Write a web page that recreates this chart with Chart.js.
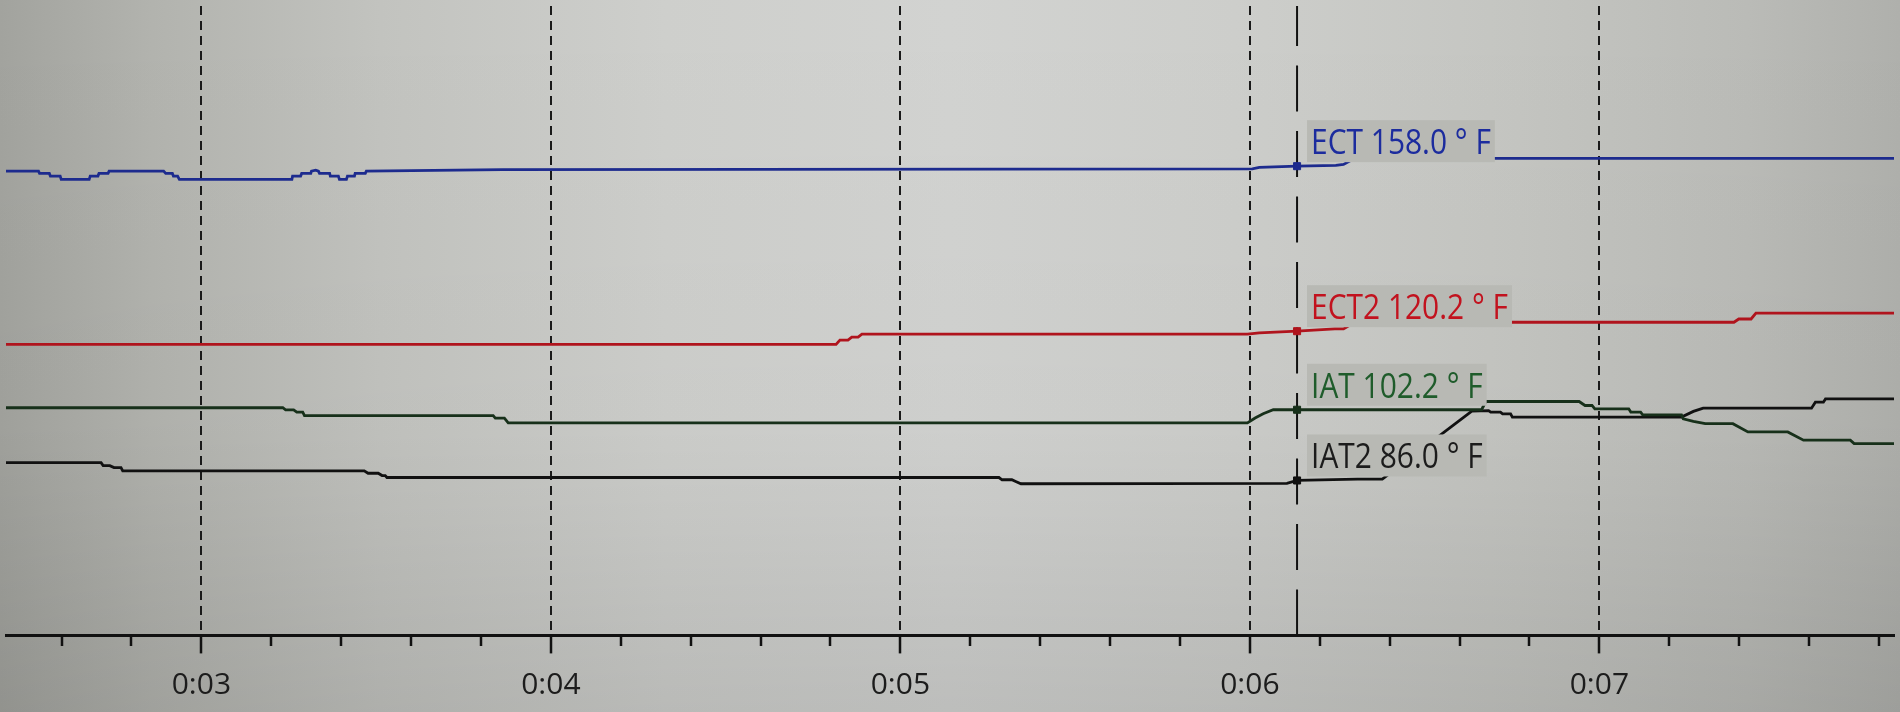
<!DOCTYPE html>
<html>
<head>
<meta charset="utf-8">
<script src="https://cdn.jsdelivr.net/npm/chart.js@4.4.1/dist/chart.umd.min.js"></script>
<style>
html,body{margin:0;padding:0;background:#c4c5c1;overflow:hidden}
#wrap{width:1900px;height:712px;position:relative}
</style>
</head>
<body>
<div id="wrap"><canvas id="c"></canvas></div>
<script>
// ---------- data ----------
const timeRange = [2.441, 7.843];          // visible time window
const valueRange = [50.51, 194.69];        // °F range of the plot
const majorTicks = [3, 4, 5, 6, 7];        // labelled as 0:03 ... 0:07
const minorStep = 0.2;
const channelNames = ['ECT', 'ECT2', 'IAT', 'IAT2'];
const channelUnit = '° F';
const cursorTime = 6.135;
const cursorReadings = [158.0, 120.2, 102.2, 86.0];

const ectSeries = [
  [2.440,156.87],[2.534,156.87],[2.537,156.34],[2.565,156.34],[2.568,155.73],[2.596,155.73],
  [2.599,154.98],[2.679,154.98],[2.682,155.73],[2.704,155.73],[2.707,156.34],[2.733,156.34],
  [2.736,156.87],[2.892,156.87],[2.898,156.34],[2.917,156.34],[2.920,155.73],[2.932,155.73],
  [2.937,154.98],[3.259,154.98],[3.261,155.73],[3.284,155.73],[3.287,156.34],[3.313,156.34],
  [3.315,156.87],[3.327,157.09],[3.335,156.87],[3.338,156.34],[3.367,156.34],[3.369,155.73],
  [3.392,155.73],[3.395,154.98],[3.415,154.98],[3.418,155.73],[3.438,155.73],[3.440,156.34],
  [3.469,156.34],[3.472,156.87],[3.861,157.2],[6.007,157.4],[6.027,157.7],[6.135,158.0],
  [6.246,158.2],[6.268,158.4],[6.300,159.8],[7.843,159.8]
];
const ect2Series = [
  [2.440,117.18],[4.816,117.18],[4.827,118.15],[4.850,118.15],[4.861,118.84],[4.879,118.84],
  [4.890,119.52],[5.993,119.52],[6.027,119.81],[6.135,120.2],[6.243,120.72],[6.268,120.72],
  [6.300,122.24],[7.385,122.24],[7.399,122.99],[7.434,122.99],[7.448,124.35],[7.843,124.35]
];
const iatSeries = [
  [2.440,102.66],[3.233,102.66],[3.241,102.18],[3.264,102.18],[3.273,101.66],[3.290,101.66],
  [3.295,100.86],[3.835,100.86],[3.841,100.30],[3.867,100.30],[3.878,99.2],[5.993,99.2],
  [6.015,100.3],[6.038,101.3],[6.067,102.2],[6.663,102.2],[6.675,104.09],[6.942,104.09],
  [6.959,103.18],[6.979,103.18],[6.987,102.41],[7.084,102.41],[7.090,101.66],[7.118,101.66],
  [7.124,101.04],[7.235,101.04],[7.240,100.14],[7.269,99.55],[7.303,99.0],[7.382,99.0],
  [7.425,97.12],[7.539,97.12],[7.584,95.24],[7.718,95.24],[7.729,94.46],[7.843,94.46]
];
const iat2Series = [
  [2.440,90.08],[2.713,90.08],[2.719,89.40],[2.738,89.40],[2.750,88.95],[2.770,88.95],
  [2.775,88.20],[3.466,88.20],[3.477,87.66],[3.506,87.66],[3.517,87.13],[3.526,87.13],
  [3.531,86.68],[5.282,86.68],[5.291,86.16],[5.319,86.16],[5.330,85.77],[5.345,85.25],
  [6.106,85.35],[6.135,86.0],[6.308,86.3],[6.379,86.3],[6.635,101.9],[6.683,102.0],
  [6.689,101.66],[6.717,101.66],[6.723,101.27],[6.746,101.27],[6.751,100.52],[7.235,100.52],
  [7.269,101.82],[7.297,102.57],[7.607,102.57],[7.618,103.93],[7.641,103.93],[7.647,104.68],
  [7.843,104.68]
];

// ---------- styles ----------
const lineColors  = ['#1d2b8e', '#b0141d', '#17301a', '#111111'];
const labelColors = ['#1c2c9e', '#c2121e', '#1f5c2b', '#1c1c1c'];
const boxColor = '#b8b9b4';

function fontAvailable(name) {
  const c = document.createElement('canvas').getContext('2d');
  const s = 'mmmmmmmmmmlli0:03ECT 158';
  c.font = '40px monospace';
  const a = c.measureText(s).width;
  c.font = '40px "' + name + '", monospace';
  const b = c.measureText(s).width;
  return Math.abs(a - b) > 0.5;
}
const hasNarrow = fontAvailable('Liberation Sans Narrow');
const tickFont = hasNarrow ? {family: 'Liberation Sans Narrow', size: 35} : {family: 'Open Sans', size: 30};
const tickPad = hasNarrow ? 12 : 14;

const toXY = s => s.map(p => ({x: p[0], y: p[1]}));
const isMajor = v => majorTicks.some(m => Math.abs(v - m) < 1e-6);

const bgPlugin = {
  id: 'bg',
  beforeDraw(chart) {
    const {ctx, width, height} = chart;
    ctx.save();
    const g = ctx.createLinearGradient(0, 0, width, 0);
    g.addColorStop(0.00, '#a2a39e');
    g.addColorStop(0.08, '#b2b3ae');
    g.addColorStop(0.20, '#c2c3bf');
    g.addColorStop(0.35, '#cecfcc');
    g.addColorStop(0.50, '#d2d3d1');
    g.addColorStop(0.65, '#cdcecb');
    g.addColorStop(0.80, '#c4c5c1');
    g.addColorStop(0.92, '#babbb7');
    g.addColorStop(1.00, '#afb0ac');
    ctx.fillStyle = g;
    ctx.fillRect(0, 0, width, height);
    const v = ctx.createLinearGradient(0, 0, 0, height);
    v.addColorStop(0, 'rgba(0,0,0,0)');
    v.addColorStop(0.6, 'rgba(0,0,0,0.02)');
    v.addColorStop(1, 'rgba(0,0,0,0.10)');
    ctx.fillStyle = v;
    ctx.fillRect(0, 0, width, height);
    ctx.restore();
  }
};

const labelPlugin = {
  id: 'cursorLabels',
  afterDatasetsDraw(chart) {
    const {ctx} = chart;
    const xs = chart.scales.x, ys = chart.scales.y;
    const cx = xs.getPixelForValue(cursorTime);
    const sx = 0.88;
    ctx.save();
    ctx.font = '34px "Open Sans"';
    ctx.textBaseline = 'alphabetic';
    channelNames.forEach((name, i) => {
      const ly = ys.getPixelForValue(cursorReadings[i]);
      const text = name + ' ' + cursorReadings[i].toFixed(1) + ' ' + channelUnit;
      const w = ctx.measureText(text).width * sx;
      ctx.fillStyle = boxColor;
      ctx.fillRect(cx + 10, ly - 46, w + 8, 42);
      ctx.fillStyle = labelColors[i];
      ctx.save();
      ctx.translate(cx + 14, ly - 12);
      ctx.scale(sx, 1);
      ctx.fillText(text, 0, 0);
      ctx.restore();
    });
    ctx.restore();
  }
};

const seriesList = [ectSeries, ect2Series, iatSeries, iat2Series];
const datasets = seriesList.map((s, i) => ({
  label: channelNames[i],
  data: toXY(s),
  borderColor: lineColors[i],
  borderWidth: 2.8,
  pointRadius: 0,
  tension: 0,
  order: 2
}));
datasets.push({
  label: 'cursor',
  data: [{x: cursorTime, y: valueRange[0]}, {x: cursorTime, y: valueRange[1]}],
  borderColor: '#111',
  borderWidth: 2,
  borderDash: [46, 19.5],
  pointRadius: 0,
  order: 3
});
datasets.push({
  type: 'scatter',
  label: 'markers',
  data: cursorReadings.map(v => ({x: cursorTime, y: v})),
  pointStyle: 'rect',
  pointRadius: 5,
  pointBackgroundColor: lineColors,
  pointBorderColor: lineColors,
  order: 1
});

new Chart(document.getElementById('c'), {
  type: 'line',
  data: {datasets},
  options: {
    responsive: true,
    maintainAspectRatio: false,
    devicePixelRatio: 1,
    animation: false,
    events: [],
    layout: {padding: 0},
    plugins: {legend: {display: false}, tooltip: {enabled: false}},
    scales: {
      x: {
        type: 'linear',
        min: timeRange[0],
        max: timeRange[1],
        afterFit(s) { s.height = 76.6; },
        ticks: {
          stepSize: minorStep,
          includeBounds: false,
          autoSkip: false,
          maxRotation: 0,
          padding: tickPad,
          color: '#1c1c1c',
          font: tickFont,
          callback: v => isMajor(v) ? '0:0' + Math.round(v) : ''
        },
        grid: {
          color: c => (c.tick && isMajor(c.tick.value)) ? '#1a1a1a' : 'rgba(0,0,0,0)',
          lineWidth: 2,
          tickLength: 18,
          tickColor: '#111',
          tickWidth: 2.5,
          tickBorderDash: c => (c.tick && isMajor(c.tick.value)) ? [] : [9, 40]
        },
        border: {
          display: true,
          color: '#111',
          width: 3,
          dash: c => (c.tick && isMajor(c.tick.value)) ? [9, 6] : []
        }
      },
      y: {
        type: 'linear',
        display: false,
        min: valueRange[0],
        max: valueRange[1]
      }
    }
  },
  plugins: [bgPlugin, labelPlugin]
});
</script>
</body>
</html>
